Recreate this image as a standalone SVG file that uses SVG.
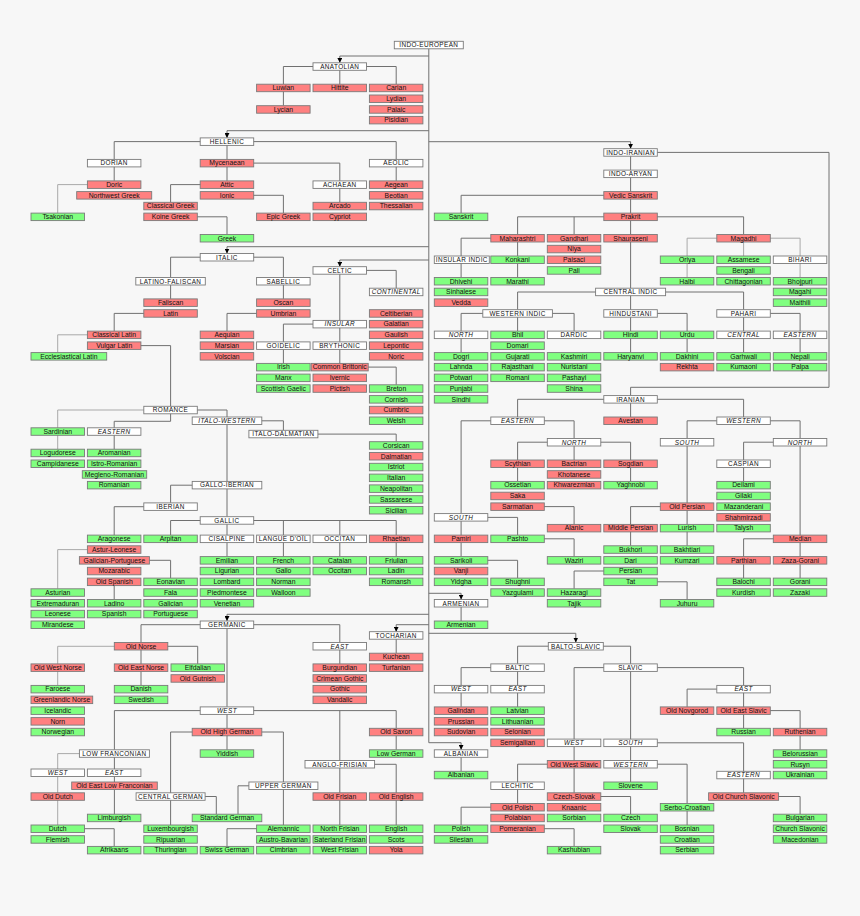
<svg xmlns="http://www.w3.org/2000/svg" width="860" height="916" viewBox="0 0 860 916">
<style>
.n rect{stroke:#7a7a7a;stroke-width:.9}
.r rect{fill:#ff8080}
.g rect{fill:#80ff80}
.w rect,.i rect{fill:#ffffff}
.n text{font-family:"Liberation Sans",Arial,sans-serif;font-size:6.8px;text-anchor:middle;fill:#111}
.w text,.i text{font-size:6.4px;letter-spacing:.4px}
.i text{font-style:italic}
#connectors path{fill:none;stroke:#707070;stroke-width:1}
#connectors path.lt{stroke:#a9a9a9}
#connectors path.ar{marker-end:url(#arrow)}
</style>
<defs>
<marker id="arrow" viewBox="0 0 10 10" refX="10" refY="5" markerWidth="5" markerHeight="5" markerUnits="userSpaceOnUse" orient="auto"><path d="M0,0L10,5L0,10z" fill="#000"/></marker>
</defs>
<rect width="860" height="916" fill="#f7f7f7"/>
<g id="connectors">
<path class="ar" d="M428.8,48.8V742.7H461.1V749.8"/>
<path class="ar" d="M428.8,56H339.8V62.8"/>
<path class="ar" d="M428.8,130.7H227V137.9"/>
<path class="ar" d="M428.8,141.7H630.6V148.7"/>
<path class="ar" d="M428.8,246.7H227V253.5"/>
<path class="ar" d="M428.8,260H339.8V266.7"/>
<path class="ar" d="M428.8,593.3H461.1V599.5"/>
<path class="ar" d="M428.8,614.3H227V621"/>
<path class="ar" d="M428.8,624.7H396.2V631.7"/>
<path class="ar" d="M428.8,633.3H575.8V642.5"/>
<path d="M339.8,66.5H283.4V84.2"/>
<path d="M283.4,88V105.7"/>
<path d="M339.8,66.5V84.2"/>
<path d="M339.8,66.5H396.2V84.2"/>
<path d="M227,141.6H114.2V159.4"/>
<path d="M114.2,163V180.9"/>
<path class="lt" d="M114.2,184.6H57.7V213.1"/>
<path d="M227,141.6V180.9"/>
<path d="M227,184.6H170.6V202.3"/>
<path d="M170.6,216.8H227V234.5"/>
<path d="M227,195.3H283.4V213.1"/>
<path d="M227,163.1H339.8V180.9"/>
<path d="M339.8,184.6V202.3"/>
<path d="M227,141.6H396.2V159.4"/>
<path d="M396.2,163.1V180.9"/>
<path d="M227,257.2H170.6V277.5"/>
<path d="M170.6,281V298.9"/>
<path d="M170.6,313.4H114.2V331.1"/>
<path class="lt" d="M114.2,334.8H57.7V352.6"/>
<path d="M114.2,345.6H170.6V406.3"/>
<path d="M227,257.2H283.4V277.5"/>
<path d="M283.4,281V298.9"/>
<path d="M283.4,313.4H227V331.1"/>
<path d="M339.8,270.4V341.9"/>
<path d="M339.8,270.4H396.2V288.2"/>
<path d="M339.8,324.1H283.4V341.9"/>
<path d="M283.4,345.6V363.4"/>
<path d="M339.8,345.6V363.4"/>
<path d="M339.8,367.1H396.2V384.8"/>
<path class="lt" d="M170.6,410H57.7V449.2"/>
<path d="M170.6,410V421.3H114.2V449.2"/>
<path d="M170.6,410H227V516.7"/>
<path d="M227,420.8H283.4V430.3"/>
<path d="M283.4,434.1H396.2V441.7"/>
<path d="M227,485.2H170.6V502.9"/>
<path d="M170.6,506.7H114.2V535.1"/>
<path d="M114.2,581.8V599.5"/>
<path class="lt" d="M114.2,549.6H57.7V588.8"/>
<path d="M114.4,560.3H170.6V578.1"/>
<path d="M227,520.5H170.6V535.1"/>
<path d="M227,520.5V535.1"/>
<path d="M227,520.5H396.2V535.1"/>
<path d="M283.4,520.5V535.1"/>
<path d="M339.8,520.5V535.1"/>
<path d="M227,538.8V556.6"/>
<path d="M283.4,538.8V556.6"/>
<path d="M339.8,538.8V556.6"/>
<path d="M396.2,538.8V556.6"/>
<path d="M227,624.7H141V642.5"/>
<path class="lt" d="M141,646.3H57.7V685.4"/>
<path d="M141,646.3V685.4"/>
<path d="M141,646.3H197.7V663.9"/>
<path d="M227,624.7H339.8V642.5"/>
<path d="M339.8,646.3V663.9"/>
<path d="M227,624.7V706.9"/>
<path d="M396.2,635.5V653.2"/>
<path d="M227,710.6H114.4V749.8"/>
<path d="M227,710.6V749.8"/>
<path d="M227,710.6H396.2V728.3"/>
<path d="M339.8,710.6V825"/>
<path d="M396.2,732V749.8"/>
<path d="M339.8,764.3H396.2V825"/>
<path d="M227,732H170.6V825"/>
<path d="M227,732H283.4V825"/>
<path d="M283.4,785.8H238V814.2"/>
<path d="M170.6,796.5H216.3V814.2"/>
<path d="M283.4,828.7H227V846.4"/>
<path class="lt" d="M114.4,753.6H57.7V825"/>
<path d="M114.4,753.6V814.2"/>
<path d="M57.7,828.7H114.2V846.4"/>
<path d="M630.6,152.4V352.6"/>
<path d="M630.6,195.3H461.1V213.1"/>
<path d="M630.6,216.8H517.6V234.5"/>
<path d="M574.1,216.8V234.5"/>
<path d="M630.6,216.8H743.6V234.5"/>
<path d="M517.6,238.2V277.5"/>
<path d="M517.6,238.2H461.1V256"/>
<path d="M461.1,259.7V277.5"/>
<path class="lt" d="M743.6,238.2H687.1V277.5"/>
<path class="lt" d="M743.6,238.2V256"/>
<path class="lt" d="M743.6,238.2H800.1V277.5"/>
<path d="M630.6,292H517.6V309.7"/>
<path d="M630.6,292H743.6V309.7"/>
<path d="M517.6,313.4H461.1V352.6"/>
<path d="M517.6,313.4V331.1"/>
<path d="M517.6,313.4H574.1V331.1"/>
<path d="M630.6,313.4H687.1V352.6"/>
<path d="M743.6,313.4V352.6"/>
<path d="M743.6,313.4H800.1V352.6"/>
<path d="M630.6,152.4H829V387.3H630.6V395.6"/>
<path d="M630.6,399.3V417"/>
<path d="M630.6,399.3H517.6V417"/>
<path d="M630.6,399.3H743.6V417"/>
<path d="M517.6,420.8H461.1V513.6"/>
<path d="M517.6,420.8H574.1V438.5"/>
<path d="M574.1,442.2H517.6V481.4"/>
<path d="M574.1,442.2V460"/>
<path d="M574.1,442.2H630.6V481.4"/>
<path d="M461.1,517.4V556.6"/>
<path d="M461.1,517.4H517.6V535.1"/>
<path d="M461.1,560.3H517.6V578.1"/>
<path d="M517.6,506.6H574.1V524.4"/>
<path d="M517.6,538.8H574.1V556.6"/>
<path d="M743.6,420.8H687.1V438.5"/>
<path d="M743.6,420.8H800.1V438.5"/>
<path d="M800.1,442.2H743.6V460"/>
<path d="M743.6,463.7V481.4"/>
<path d="M687.1,442.2V545.8"/>
<path d="M687.1,506.6H630.6V545.8"/>
<path d="M630.6,571H574.1V588.8"/>
<path d="M630.6,581.8H687.1V599.5"/>
<path d="M800.1,442.2V578.1"/>
<path d="M800.1,538.8H743.6V578.1"/>
<path d="M461.1,603.2V621"/>
<path d="M575.8,646.2H517.6V663.9"/>
<path d="M575.8,646.2H630.6V663.9"/>
<path d="M517.6,667.6H461.1V706.9"/>
<path d="M517.6,667.6V706.9"/>
<path d="M630.6,667.6H574.1V792.8"/>
<path d="M630.6,667.6H743.6V685.4"/>
<path d="M630.6,667.6V782"/>
<path d="M743.6,689.1H687.1V706.9"/>
<path d="M743.6,689.1V728.3"/>
<path d="M743.6,710.6H800.1V749.8"/>
<path d="M630.6,742.8H743.6V792.8"/>
<path d="M630.6,764.2H687.1V825"/>
<path d="M743.6,796.5H800.1V814.2"/>
<path d="M574.1,796.5H630.6V814.2"/>
<path d="M574.1,764.2H517.6V803.5"/>
<path d="M517.6,807.2H461.1V825"/>
<path d="M517.6,828.7H574.1V846.4"/>
<path d="M461.1,753.5V771.3"/>
</g>
<g id="n-indo-european" class="n w" transform="translate(394.3,41.3)"><rect width="69" height="7.5"/><text x="34.5" y="6.1">INDO-EUROPEAN</text></g>
<g id="n-anatolian" class="n w" transform="translate(313,62.8)"><rect width="53.5" height="7.5"/><text x="26.75" y="6.1">ANATOLIAN</text></g>
<g id="n-luwian" class="n r" transform="translate(256.6,84.2)"><rect width="53.5" height="7.5"/><text x="26.75" y="6.1">Luwian</text></g>
<g id="n-hittite" class="n r" transform="translate(313,84.2)"><rect width="53.5" height="7.5"/><text x="26.75" y="6.1">Hittite</text></g>
<g id="n-carian" class="n r" transform="translate(369.4,84.2)"><rect width="53.5" height="7.5"/><text x="26.75" y="6.1">Carian</text></g>
<g id="n-lydian" class="n r" transform="translate(369.4,95)"><rect width="53.5" height="7.5"/><text x="26.75" y="6.1">Lydian</text></g>
<g id="n-lycian" class="n r" transform="translate(256.6,105.7)"><rect width="53.5" height="7.5"/><text x="26.75" y="6.1">Lycian</text></g>
<g id="n-palaic" class="n r" transform="translate(369.4,105.7)"><rect width="53.5" height="7.5"/><text x="26.75" y="6.1">Palaic</text></g>
<g id="n-pisidian" class="n r" transform="translate(369.4,116.4)"><rect width="53.5" height="7.5"/><text x="26.75" y="6.1">Pisidian</text></g>
<g id="n-hellenic" class="n w" transform="translate(200.2,137.9)"><rect width="53.5" height="7.5"/><text x="26.75" y="6.1">HELLENIC</text></g>
<g id="n-dorian" class="n w" transform="translate(87.4,159.4)"><rect width="53.5" height="7.5"/><text x="26.75" y="6.1">DORIAN</text></g>
<g id="n-mycenaean" class="n r" transform="translate(200.2,159.4)"><rect width="53.5" height="7.5"/><text x="26.75" y="6.1">Mycenaean</text></g>
<g id="n-aeolic" class="n w" transform="translate(369.4,159.4)"><rect width="53.5" height="7.5"/><text x="26.75" y="6.1">AEOLIC</text></g>
<g id="n-doric" class="n r" transform="translate(87.4,180.9)"><rect width="53.5" height="7.5"/><text x="26.75" y="6.1">Doric</text></g>
<g id="n-attic" class="n r" transform="translate(200.2,180.9)"><rect width="53.5" height="7.5"/><text x="26.75" y="6.1">Attic</text></g>
<g id="n-achaean" class="n w" transform="translate(313,180.9)"><rect width="53.5" height="7.5"/><text x="26.75" y="6.1">ACHAEAN</text></g>
<g id="n-aegean" class="n r" transform="translate(369.4,180.9)"><rect width="53.5" height="7.5"/><text x="26.75" y="6.1">Aegean</text></g>
<g id="n-northwest-greek" class="n r" transform="translate(76.7,191.6)"><rect width="75" height="7.5"/><text x="37.5" y="6.1">Northwest Greek</text></g>
<g id="n-ionic" class="n r" transform="translate(200.2,191.6)"><rect width="53.5" height="7.5"/><text x="26.75" y="6.1">Ionic</text></g>
<g id="n-beotian" class="n r" transform="translate(369.4,191.6)"><rect width="53.5" height="7.5"/><text x="26.75" y="6.1">Beotian</text></g>
<g id="n-classical-greek" class="n r" transform="translate(143.8,202.3)"><rect width="53.5" height="7.5"/><text x="26.75" y="6.1">Classical Greek</text></g>
<g id="n-arcado" class="n r" transform="translate(313,202.3)"><rect width="53.5" height="7.5"/><text x="26.75" y="6.1">Arcado</text></g>
<g id="n-thessalian" class="n r" transform="translate(369.4,202.3)"><rect width="53.5" height="7.5"/><text x="26.75" y="6.1">Thessalian</text></g>
<g id="n-tsakonian" class="n g" transform="translate(31,213.1)"><rect width="53.5" height="7.5"/><text x="26.75" y="6.1">Tsakonian</text></g>
<g id="n-koine-greek" class="n r" transform="translate(143.8,213.1)"><rect width="53.5" height="7.5"/><text x="26.75" y="6.1">Koine Greek</text></g>
<g id="n-epic-greek" class="n r" transform="translate(256.6,213.1)"><rect width="53.5" height="7.5"/><text x="26.75" y="6.1">Epic Greek</text></g>
<g id="n-cypriot" class="n r" transform="translate(313,213.1)"><rect width="53.5" height="7.5"/><text x="26.75" y="6.1">Cypriot</text></g>
<g id="n-greek" class="n g" transform="translate(200.2,234.5)"><rect width="53.5" height="7.5"/><text x="26.75" y="6.1">Greek</text></g>
<g id="n-italic" class="n w" transform="translate(200.2,253.5)"><rect width="53.5" height="7.5"/><text x="26.75" y="6.1">ITALIC</text></g>
<g id="n-celtic" class="n w" transform="translate(313,266.7)"><rect width="53.5" height="7.5"/><text x="26.75" y="6.1">CELTIC</text></g>
<g id="n-latino-faliscan" class="n w" transform="translate(135.8,277.5)"><rect width="69.5" height="7.5"/><text x="34.75" y="6.1">LATINO-FALISCAN</text></g>
<g id="n-sabellic" class="n w" transform="translate(256.6,277.5)"><rect width="53.5" height="7.5"/><text x="26.75" y="6.1">SABELLIC</text></g>
<g id="n-continental" class="n i" transform="translate(369.4,288.2)"><rect width="53.5" height="7.5"/><text x="26.75" y="6.1">CONTINENTAL</text></g>
<g id="n-faliscan" class="n r" transform="translate(143.8,298.9)"><rect width="53.5" height="7.5"/><text x="26.75" y="6.1">Faliscan</text></g>
<g id="n-oscan" class="n r" transform="translate(256.6,298.9)"><rect width="53.5" height="7.5"/><text x="26.75" y="6.1">Oscan</text></g>
<g id="n-latin" class="n r" transform="translate(143.8,309.7)"><rect width="53.5" height="7.5"/><text x="26.75" y="6.1">Latin</text></g>
<g id="n-umbrian" class="n r" transform="translate(256.6,309.7)"><rect width="53.5" height="7.5"/><text x="26.75" y="6.1">Umbrian</text></g>
<g id="n-celtiberian" class="n r" transform="translate(369.4,309.7)"><rect width="53.5" height="7.5"/><text x="26.75" y="6.1">Celtiberian</text></g>
<g id="n-insular" class="n i" transform="translate(313,320.4)"><rect width="53.5" height="7.5"/><text x="26.75" y="6.1">INSULAR</text></g>
<g id="n-galatian" class="n r" transform="translate(369.4,320.4)"><rect width="53.5" height="7.5"/><text x="26.75" y="6.1">Galatian</text></g>
<g id="n-classical-latin" class="n r" transform="translate(87.4,331.1)"><rect width="53.5" height="7.5"/><text x="26.75" y="6.1">Classical Latin</text></g>
<g id="n-aequian" class="n r" transform="translate(200.2,331.1)"><rect width="53.5" height="7.5"/><text x="26.75" y="6.1">Aequian</text></g>
<g id="n-gaulish" class="n r" transform="translate(369.4,331.1)"><rect width="53.5" height="7.5"/><text x="26.75" y="6.1">Gaulish</text></g>
<g id="n-vulgar-latin" class="n r" transform="translate(87.4,341.9)"><rect width="53.5" height="7.5"/><text x="26.75" y="6.1">Vulgar Latin</text></g>
<g id="n-marsian" class="n r" transform="translate(200.2,341.9)"><rect width="53.5" height="7.5"/><text x="26.75" y="6.1">Marsian</text></g>
<g id="n-goidelic" class="n w" transform="translate(256.6,341.9)"><rect width="53.5" height="7.5"/><text x="26.75" y="6.1">GOIDELIC</text></g>
<g id="n-brythonic" class="n w" transform="translate(313,341.9)"><rect width="53.5" height="7.5"/><text x="26.75" y="6.1">BRYTHONIC</text></g>
<g id="n-lepontic" class="n r" transform="translate(369.4,341.9)"><rect width="53.5" height="7.5"/><text x="26.75" y="6.1">Lepontic</text></g>
<g id="n-ecclesiastical-latin" class="n g" transform="translate(31,352.6)"><rect width="75.7" height="7.5"/><text x="37.85" y="6.1">Ecclesiastical Latin</text></g>
<g id="n-volscian" class="n r" transform="translate(200.2,352.6)"><rect width="53.5" height="7.5"/><text x="26.75" y="6.1">Volscian</text></g>
<g id="n-noric" class="n r" transform="translate(369.4,352.6)"><rect width="53.5" height="7.5"/><text x="26.75" y="6.1">Noric</text></g>
<g id="n-irish" class="n g" transform="translate(256.6,363.4)"><rect width="53.5" height="7.5"/><text x="26.75" y="6.1">Irish</text></g>
<g id="n-common-brittonic" class="n r" transform="translate(311.2,363.4)"><rect width="57" height="7.5"/><text x="28.5" y="6.1">Common Brittonic</text></g>
<g id="n-manx" class="n g" transform="translate(256.6,374.1)"><rect width="53.5" height="7.5"/><text x="26.75" y="6.1">Manx</text></g>
<g id="n-ivernic" class="n r" transform="translate(313,374.1)"><rect width="53.5" height="7.5"/><text x="26.75" y="6.1">Ivernic</text></g>
<g id="n-scottish-gaelic" class="n g" transform="translate(256.6,384.8)"><rect width="53.5" height="7.5"/><text x="26.75" y="6.1">Scottish Gaelic</text></g>
<g id="n-pictish" class="n r" transform="translate(313,384.8)"><rect width="53.5" height="7.5"/><text x="26.75" y="6.1">Pictish</text></g>
<g id="n-breton" class="n g" transform="translate(369.4,384.8)"><rect width="53.5" height="7.5"/><text x="26.75" y="6.1">Breton</text></g>
<g id="n-cornish" class="n g" transform="translate(369.4,395.6)"><rect width="53.5" height="7.5"/><text x="26.75" y="6.1">Cornish</text></g>
<g id="n-romance" class="n w" transform="translate(143.8,406.3)"><rect width="53.5" height="7.5"/><text x="26.75" y="6.1">ROMANCE</text></g>
<g id="n-cumbric" class="n r" transform="translate(369.4,406.3)"><rect width="53.5" height="7.5"/><text x="26.75" y="6.1">Cumbric</text></g>
<g id="n-italo-western" class="n i" transform="translate(192.2,417)"><rect width="69.6" height="7.5"/><text x="34.8" y="6.1">ITALO-WESTERN</text></g>
<g id="n-welsh" class="n g" transform="translate(369.4,417)"><rect width="53.5" height="7.5"/><text x="26.75" y="6.1">Welsh</text></g>
<g id="n-sardinian" class="n g" transform="translate(31,427.8)"><rect width="53.5" height="7.5"/><text x="26.75" y="6.1">Sardinian</text></g>
<g id="n-eastern-romance" class="n i" transform="translate(87.4,427.8)"><rect width="53.5" height="7.5"/><text x="26.75" y="6.1">EASTERN</text></g>
<g id="n-italo-dalmatian" class="n w" transform="translate(248.9,430.3)"><rect width="69" height="7.5"/><text x="34.5" y="6.1">ITALO-DALMATIAN</text></g>
<g id="n-corsican" class="n g" transform="translate(369.4,441.7)"><rect width="53.5" height="7.5"/><text x="26.75" y="6.1">Corsican</text></g>
<g id="n-logudorese" class="n g" transform="translate(31,449.2)"><rect width="53.5" height="7.5"/><text x="26.75" y="6.1">Logudorese</text></g>
<g id="n-aromanian" class="n g" transform="translate(87.4,449.2)"><rect width="53.5" height="7.5"/><text x="26.75" y="6.1">Aromanian</text></g>
<g id="n-dalmatian" class="n r" transform="translate(369.4,452.5)"><rect width="53.5" height="7.5"/><text x="26.75" y="6.1">Dalmatian</text></g>
<g id="n-campidanese" class="n g" transform="translate(31,460)"><rect width="53.5" height="7.5"/><text x="26.75" y="6.1">Campidanese</text></g>
<g id="n-istro-romanian" class="n g" transform="translate(87.4,460)"><rect width="53.5" height="7.5"/><text x="26.75" y="6.1">Istro-Romanian</text></g>
<g id="n-istriot" class="n g" transform="translate(369.4,463.3)"><rect width="53.5" height="7.5"/><text x="26.75" y="6.1">Istriot</text></g>
<g id="n-megleno-romanian" class="n g" transform="translate(82.3,470.7)"><rect width="64.4" height="7.5"/><text x="32.2" y="6.1">Megleno-Romanian</text></g>
<g id="n-italian" class="n g" transform="translate(369.4,474.1)"><rect width="53.5" height="7.5"/><text x="26.75" y="6.1">Italian</text></g>
<g id="n-romanian" class="n g" transform="translate(87.4,481.4)"><rect width="53.5" height="7.5"/><text x="26.75" y="6.1">Romanian</text></g>
<g id="n-gallo-iberian" class="n w" transform="translate(192.2,481.4)"><rect width="69.6" height="7.5"/><text x="34.8" y="6.1">GALLO-IBERIAN</text></g>
<g id="n-neapolitan" class="n g" transform="translate(369.4,484.9)"><rect width="53.5" height="7.5"/><text x="26.75" y="6.1">Neapolitan</text></g>
<g id="n-sassarese" class="n g" transform="translate(369.4,495.7)"><rect width="53.5" height="7.5"/><text x="26.75" y="6.1">Sassarese</text></g>
<g id="n-iberian" class="n w" transform="translate(143.8,502.9)"><rect width="53.5" height="7.5"/><text x="26.75" y="6.1">IBERIAN</text></g>
<g id="n-sicilian" class="n g" transform="translate(369.4,506.5)"><rect width="53.5" height="7.5"/><text x="26.75" y="6.1">Sicilian</text></g>
<g id="n-gallic" class="n w" transform="translate(200.2,516.7)"><rect width="53.5" height="7.5"/><text x="26.75" y="6.1">GALLIC</text></g>
<g id="n-aragonese" class="n g" transform="translate(87.4,535.1)"><rect width="53.5" height="7.5"/><text x="26.75" y="6.1">Aragonese</text></g>
<g id="n-arpitan" class="n g" transform="translate(143.8,535.1)"><rect width="53.5" height="7.5"/><text x="26.75" y="6.1">Arpitan</text></g>
<g id="n-cisalpine" class="n w" transform="translate(200.2,535.1)"><rect width="53.5" height="7.5"/><text x="26.75" y="6.1">CISALPINE</text></g>
<g id="n-langue-d-oil" class="n w" transform="translate(256.6,535.1)"><rect width="53.5" height="7.5"/><text x="26.75" y="6.1">LANGUE D'OÏL</text></g>
<g id="n-occitan-group" class="n w" transform="translate(313,535.1)"><rect width="53.5" height="7.5"/><text x="26.75" y="6.1">OCCITAN</text></g>
<g id="n-rhaetian" class="n r" transform="translate(369.4,535.1)"><rect width="53.5" height="7.5"/><text x="26.75" y="6.1">Rhaetian</text></g>
<g id="n-astur-leonese" class="n r" transform="translate(87.4,545.8)"><rect width="53.5" height="7.5"/><text x="26.75" y="6.1">Astur-Leonese</text></g>
<g id="n-galician-portuguese" class="n r" transform="translate(79.4,556.6)"><rect width="70" height="7.5"/><text x="35" y="6.1">Galician-Portuguese</text></g>
<g id="n-emilian" class="n g" transform="translate(200.2,556.6)"><rect width="53.5" height="7.5"/><text x="26.75" y="6.1">Emilian</text></g>
<g id="n-french" class="n g" transform="translate(256.6,556.6)"><rect width="53.5" height="7.5"/><text x="26.75" y="6.1">French</text></g>
<g id="n-catalan" class="n g" transform="translate(313,556.6)"><rect width="53.5" height="7.5"/><text x="26.75" y="6.1">Catalan</text></g>
<g id="n-friulian" class="n g" transform="translate(369.4,556.6)"><rect width="53.5" height="7.5"/><text x="26.75" y="6.1">Friulian</text></g>
<g id="n-mozarabic" class="n r" transform="translate(87.4,567.3)"><rect width="53.5" height="7.5"/><text x="26.75" y="6.1">Mozarabic</text></g>
<g id="n-ligurian" class="n g" transform="translate(200.2,567.3)"><rect width="53.5" height="7.5"/><text x="26.75" y="6.1">Ligurian</text></g>
<g id="n-gallo" class="n g" transform="translate(256.6,567.3)"><rect width="53.5" height="7.5"/><text x="26.75" y="6.1">Gallo</text></g>
<g id="n-occitan" class="n g" transform="translate(313,567.3)"><rect width="53.5" height="7.5"/><text x="26.75" y="6.1">Occitan</text></g>
<g id="n-ladin" class="n g" transform="translate(369.4,567.3)"><rect width="53.5" height="7.5"/><text x="26.75" y="6.1">Ladin</text></g>
<g id="n-old-spanish" class="n r" transform="translate(87.4,578.1)"><rect width="53.5" height="7.5"/><text x="26.75" y="6.1">Old Spanish</text></g>
<g id="n-eonavian" class="n g" transform="translate(143.8,578.1)"><rect width="53.5" height="7.5"/><text x="26.75" y="6.1">Eonavian</text></g>
<g id="n-lombard" class="n g" transform="translate(200.2,578.1)"><rect width="53.5" height="7.5"/><text x="26.75" y="6.1">Lombard</text></g>
<g id="n-norman" class="n g" transform="translate(256.6,578.1)"><rect width="53.5" height="7.5"/><text x="26.75" y="6.1">Norman</text></g>
<g id="n-romansh" class="n g" transform="translate(369.4,578.1)"><rect width="53.5" height="7.5"/><text x="26.75" y="6.1">Romansh</text></g>
<g id="n-asturian" class="n g" transform="translate(31,588.8)"><rect width="53.5" height="7.5"/><text x="26.75" y="6.1">Asturian</text></g>
<g id="n-fala" class="n g" transform="translate(143.8,588.8)"><rect width="53.5" height="7.5"/><text x="26.75" y="6.1">Fala</text></g>
<g id="n-piedmontese" class="n g" transform="translate(200.2,588.8)"><rect width="53.5" height="7.5"/><text x="26.75" y="6.1">Piedmontese</text></g>
<g id="n-walloon" class="n g" transform="translate(256.6,588.8)"><rect width="53.5" height="7.5"/><text x="26.75" y="6.1">Walloon</text></g>
<g id="n-extremaduran" class="n g" transform="translate(31,599.5)"><rect width="53.5" height="7.5"/><text x="26.75" y="6.1">Extremaduran</text></g>
<g id="n-ladino" class="n g" transform="translate(87.4,599.5)"><rect width="53.5" height="7.5"/><text x="26.75" y="6.1">Ladino</text></g>
<g id="n-galician" class="n g" transform="translate(143.8,599.5)"><rect width="53.5" height="7.5"/><text x="26.75" y="6.1">Galician</text></g>
<g id="n-venetian" class="n g" transform="translate(200.2,599.5)"><rect width="53.5" height="7.5"/><text x="26.75" y="6.1">Venetian</text></g>
<g id="n-leonese" class="n g" transform="translate(31,610.3)"><rect width="53.5" height="7.5"/><text x="26.75" y="6.1">Leonese</text></g>
<g id="n-spanish" class="n g" transform="translate(87.4,610.3)"><rect width="53.5" height="7.5"/><text x="26.75" y="6.1">Spanish</text></g>
<g id="n-portuguese" class="n g" transform="translate(143.8,610.3)"><rect width="53.5" height="7.5"/><text x="26.75" y="6.1">Portuguese</text></g>
<g id="n-mirandese" class="n g" transform="translate(31,621)"><rect width="53.5" height="7.5"/><text x="26.75" y="6.1">Mirandese</text></g>
<g id="n-germanic" class="n w" transform="translate(200.2,621)"><rect width="53.5" height="7.5"/><text x="26.75" y="6.1">GERMANIC</text></g>
<g id="n-tocharian" class="n w" transform="translate(369.4,631.7)"><rect width="53.5" height="7.5"/><text x="26.75" y="6.1">TOCHARIAN</text></g>
<g id="n-old-norse" class="n r" transform="translate(114.3,642.5)"><rect width="53.5" height="7.5"/><text x="26.75" y="6.1">Old Norse</text></g>
<g id="n-east-germanic" class="n i" transform="translate(313,642.5)"><rect width="53.5" height="7.5"/><text x="26.75" y="6.1">EAST</text></g>
<g id="n-kuchean" class="n r" transform="translate(369.4,653.2)"><rect width="53.5" height="7.5"/><text x="26.75" y="6.1">Kuchean</text></g>
<g id="n-old-west-norse" class="n r" transform="translate(31,663.9)"><rect width="53.5" height="7.5"/><text x="26.75" y="6.1">Old West Norse</text></g>
<g id="n-old-east-norse" class="n r" transform="translate(114.3,663.9)"><rect width="53.5" height="7.5"/><text x="26.75" y="6.1">Old East Norse</text></g>
<g id="n-elfdalian" class="n g" transform="translate(171,663.9)"><rect width="53.5" height="7.5"/><text x="26.75" y="6.1">Elfdalian</text></g>
<g id="n-burgundian" class="n r" transform="translate(313,663.9)"><rect width="53.5" height="7.5"/><text x="26.75" y="6.1">Burgundian</text></g>
<g id="n-turfanian" class="n r" transform="translate(369.4,663.9)"><rect width="53.5" height="7.5"/><text x="26.75" y="6.1">Turfanian</text></g>
<g id="n-old-gutnish" class="n r" transform="translate(171,674.7)"><rect width="53.5" height="7.5"/><text x="26.75" y="6.1">Old Gutnish</text></g>
<g id="n-crimean-gothic" class="n r" transform="translate(313,674.7)"><rect width="53.5" height="7.5"/><text x="26.75" y="6.1">Crimean Gothic</text></g>
<g id="n-faroese" class="n g" transform="translate(31,685.4)"><rect width="53.5" height="7.5"/><text x="26.75" y="6.1">Faroese</text></g>
<g id="n-danish" class="n g" transform="translate(114.3,685.4)"><rect width="53.5" height="7.5"/><text x="26.75" y="6.1">Danish</text></g>
<g id="n-gothic" class="n r" transform="translate(313,685.4)"><rect width="53.5" height="7.5"/><text x="26.75" y="6.1">Gothic</text></g>
<g id="n-greenlandic-norse" class="n r" transform="translate(31,696.1)"><rect width="61.7" height="7.5"/><text x="30.85" y="6.1">Greenlandic Norse</text></g>
<g id="n-swedish" class="n g" transform="translate(114.3,696.1)"><rect width="53.5" height="7.5"/><text x="26.75" y="6.1">Swedish</text></g>
<g id="n-vandalic" class="n r" transform="translate(313,696.1)"><rect width="53.5" height="7.5"/><text x="26.75" y="6.1">Vandalic</text></g>
<g id="n-icelandic" class="n g" transform="translate(31,706.9)"><rect width="53.5" height="7.5"/><text x="26.75" y="6.1">Icelandic</text></g>
<g id="n-west-germanic" class="n i" transform="translate(200.2,706.9)"><rect width="53.5" height="7.5"/><text x="26.75" y="6.1">WEST</text></g>
<g id="n-norn" class="n r" transform="translate(31,717.6)"><rect width="53.5" height="7.5"/><text x="26.75" y="6.1">Norn</text></g>
<g id="n-norwegian" class="n g" transform="translate(31,728.3)"><rect width="53.5" height="7.5"/><text x="26.75" y="6.1">Norwegian</text></g>
<g id="n-old-high-german" class="n r" transform="translate(192.2,728.3)"><rect width="69.6" height="7.5"/><text x="34.8" y="6.1">Old High German</text></g>
<g id="n-old-saxon" class="n r" transform="translate(369.4,728.3)"><rect width="53.5" height="7.5"/><text x="26.75" y="6.1">Old Saxon</text></g>
<g id="n-low-franconian" class="n w" transform="translate(79.4,749.8)"><rect width="70" height="7.5"/><text x="35" y="6.1">LOW FRANCONIAN</text></g>
<g id="n-yiddish" class="n g" transform="translate(200.2,749.8)"><rect width="53.5" height="7.5"/><text x="26.75" y="6.1">Yiddish</text></g>
<g id="n-low-german" class="n g" transform="translate(369.4,749.8)"><rect width="53.5" height="7.5"/><text x="26.75" y="6.1">Low German</text></g>
<g id="n-anglo-frisian" class="n w" transform="translate(305,760.5)"><rect width="69.6" height="7.5"/><text x="34.8" y="6.1">ANGLO-FRISIAN</text></g>
<g id="n-west-low-franconian" class="n i" transform="translate(31,769)"><rect width="53.5" height="7.5"/><text x="26.75" y="6.1">WEST</text></g>
<g id="n-east-low-franconian" class="n i" transform="translate(87.4,769)"><rect width="53.5" height="7.5"/><text x="26.75" y="6.1">EAST</text></g>
<g id="n-old-east-low-franconian" class="n r" transform="translate(71.7,782)"><rect width="85.6" height="7.5"/><text x="42.8" y="6.1">Old East Low Franconian</text></g>
<g id="n-upper-german" class="n w" transform="translate(248.9,782)"><rect width="69" height="7.5"/><text x="34.5" y="6.1">UPPER GERMAN</text></g>
<g id="n-old-dutch" class="n r" transform="translate(31,792.8)"><rect width="53.5" height="7.5"/><text x="26.75" y="6.1">Old Dutch</text></g>
<g id="n-central-german" class="n w" transform="translate(136.1,792.8)"><rect width="69" height="7.5"/><text x="34.5" y="6.1">CENTRAL GERMAN</text></g>
<g id="n-old-frisian" class="n r" transform="translate(313,792.8)"><rect width="53.5" height="7.5"/><text x="26.75" y="6.1">Old Frisian</text></g>
<g id="n-old-english" class="n r" transform="translate(369.4,792.8)"><rect width="53.5" height="7.5"/><text x="26.75" y="6.1">Old English</text></g>
<g id="n-limburgish" class="n g" transform="translate(87.4,814.2)"><rect width="53.5" height="7.5"/><text x="26.75" y="6.1">Limburgish</text></g>
<g id="n-standard-german" class="n g" transform="translate(192.2,814.2)"><rect width="69.6" height="7.5"/><text x="34.8" y="6.1">Standard German</text></g>
<g id="n-dutch" class="n g" transform="translate(31,825)"><rect width="53.5" height="7.5"/><text x="26.75" y="6.1">Dutch</text></g>
<g id="n-luxembourgish" class="n g" transform="translate(143.8,825)"><rect width="53.5" height="7.5"/><text x="26.75" y="6.1">Luxembourgish</text></g>
<g id="n-alemannic" class="n g" transform="translate(256.6,825)"><rect width="53.5" height="7.5"/><text x="26.75" y="6.1">Alemannic</text></g>
<g id="n-north-frisian" class="n g" transform="translate(313,825)"><rect width="53.5" height="7.5"/><text x="26.75" y="6.1">North Frisian</text></g>
<g id="n-english" class="n g" transform="translate(369.4,825)"><rect width="53.5" height="7.5"/><text x="26.75" y="6.1">English</text></g>
<g id="n-flemish" class="n g" transform="translate(31,835.7)"><rect width="53.5" height="7.5"/><text x="26.75" y="6.1">Flemish</text></g>
<g id="n-ripuarian" class="n g" transform="translate(143.8,835.7)"><rect width="53.5" height="7.5"/><text x="26.75" y="6.1">Ripuarian</text></g>
<g id="n-austro-bavarian" class="n g" transform="translate(256.6,835.7)"><rect width="53.5" height="7.5"/><text x="26.75" y="6.1">Austro-Bavarian</text></g>
<g id="n-saterland-frisian" class="n g" transform="translate(313,835.7)"><rect width="53.5" height="7.5"/><text x="26.75" y="6.1">Saterland Frisian</text></g>
<g id="n-scots" class="n g" transform="translate(369.4,835.7)"><rect width="53.5" height="7.5"/><text x="26.75" y="6.1">Scots</text></g>
<g id="n-afrikaans" class="n g" transform="translate(87.4,846.4)"><rect width="53.5" height="7.5"/><text x="26.75" y="6.1">Afrikaans</text></g>
<g id="n-thuringian" class="n g" transform="translate(143.8,846.4)"><rect width="53.5" height="7.5"/><text x="26.75" y="6.1">Thuringian</text></g>
<g id="n-swiss-german" class="n g" transform="translate(200.2,846.4)"><rect width="53.5" height="7.5"/><text x="26.75" y="6.1">Swiss German</text></g>
<g id="n-cimbrian" class="n g" transform="translate(256.6,846.4)"><rect width="53.5" height="7.5"/><text x="26.75" y="6.1">Cimbrian</text></g>
<g id="n-west-frisian" class="n g" transform="translate(313,846.4)"><rect width="53.5" height="7.5"/><text x="26.75" y="6.1">West Frisian</text></g>
<g id="n-yola" class="n r" transform="translate(369.4,846.4)"><rect width="53.5" height="7.5"/><text x="26.75" y="6.1">Yola</text></g>
<g id="n-indo-iranian" class="n w" transform="translate(603.8,148.7)"><rect width="53.5" height="7.5"/><text x="26.75" y="6.1">INDO-IRANIAN</text></g>
<g id="n-indo-aryan" class="n w" transform="translate(603.8,170.1)"><rect width="53.5" height="7.5"/><text x="26.75" y="6.1">INDO-ARYAN</text></g>
<g id="n-vedic-sanskrit" class="n r" transform="translate(603.8,191.6)"><rect width="53.5" height="7.5"/><text x="26.75" y="6.1">Vedic Sanskrit</text></g>
<g id="n-sanskrit" class="n g" transform="translate(434.3,213.1)"><rect width="53.5" height="7.5"/><text x="26.75" y="6.1">Sanskrit</text></g>
<g id="n-prakrit" class="n r" transform="translate(603.8,213.1)"><rect width="53.5" height="7.5"/><text x="26.75" y="6.1">Prakrit</text></g>
<g id="n-maharashtri" class="n r" transform="translate(490.8,234.5)"><rect width="53.5" height="7.5"/><text x="26.75" y="6.1">Maharashtri</text></g>
<g id="n-gandhari" class="n r" transform="translate(547.3,234.5)"><rect width="53.5" height="7.5"/><text x="26.75" y="6.1">Gandhari</text></g>
<g id="n-shauraseni" class="n r" transform="translate(603.8,234.5)"><rect width="53.5" height="7.5"/><text x="26.75" y="6.1">Shauraseni</text></g>
<g id="n-magadhi" class="n r" transform="translate(716.8,234.5)"><rect width="53.5" height="7.5"/><text x="26.75" y="6.1">Magadhi</text></g>
<g id="n-niya" class="n r" transform="translate(547.3,245.3)"><rect width="53.5" height="7.5"/><text x="26.75" y="6.1">Niya</text></g>
<g id="n-insular-indic" class="n w" transform="translate(434.3,256)"><rect width="55" height="7.5"/><text x="27.5" y="6.1">INSULAR INDIC</text></g>
<g id="n-konkani" class="n g" transform="translate(490.8,256)"><rect width="53.5" height="7.5"/><text x="26.75" y="6.1">Konkani</text></g>
<g id="n-paisaci" class="n r" transform="translate(547.3,256)"><rect width="53.5" height="7.5"/><text x="26.75" y="6.1">Paisaci</text></g>
<g id="n-oriya" class="n g" transform="translate(660.3,256)"><rect width="53.5" height="7.5"/><text x="26.75" y="6.1">Oriya</text></g>
<g id="n-assamese" class="n g" transform="translate(716.8,256)"><rect width="53.5" height="7.5"/><text x="26.75" y="6.1">Assamese</text></g>
<g id="n-bihari" class="n w" transform="translate(773.3,256)"><rect width="53.5" height="7.5"/><text x="26.75" y="6.1">BIHARI</text></g>
<g id="n-pali" class="n g" transform="translate(547.3,266.7)"><rect width="53.5" height="7.5"/><text x="26.75" y="6.1">Pali</text></g>
<g id="n-bengali" class="n g" transform="translate(716.8,266.7)"><rect width="53.5" height="7.5"/><text x="26.75" y="6.1">Bengali</text></g>
<g id="n-dhivehi" class="n g" transform="translate(434.3,277.5)"><rect width="53.5" height="7.5"/><text x="26.75" y="6.1">Dhivehi</text></g>
<g id="n-marathi" class="n g" transform="translate(490.8,277.5)"><rect width="53.5" height="7.5"/><text x="26.75" y="6.1">Marathi</text></g>
<g id="n-halbi" class="n g" transform="translate(660.3,277.5)"><rect width="53.5" height="7.5"/><text x="26.75" y="6.1">Halbi</text></g>
<g id="n-chittagonian" class="n g" transform="translate(716.8,277.5)"><rect width="53.5" height="7.5"/><text x="26.75" y="6.1">Chittagonian</text></g>
<g id="n-bhojpuri" class="n g" transform="translate(773.3,277.5)"><rect width="53.5" height="7.5"/><text x="26.75" y="6.1">Bhojpuri</text></g>
<g id="n-sinhalese" class="n g" transform="translate(434.3,288.2)"><rect width="53.5" height="7.5"/><text x="26.75" y="6.1">Sinhalese</text></g>
<g id="n-central-indic" class="n w" transform="translate(595.6,288.2)"><rect width="70" height="7.5"/><text x="35" y="6.1">CENTRAL INDIC</text></g>
<g id="n-magahi" class="n g" transform="translate(773.3,288.2)"><rect width="53.5" height="7.5"/><text x="26.75" y="6.1">Magahi</text></g>
<g id="n-vedda" class="n r" transform="translate(434.3,298.9)"><rect width="53.5" height="7.5"/><text x="26.75" y="6.1">Vedda</text></g>
<g id="n-maithili" class="n g" transform="translate(773.3,298.9)"><rect width="53.5" height="7.5"/><text x="26.75" y="6.1">Maithili</text></g>
<g id="n-western-indic" class="n w" transform="translate(482.8,309.7)"><rect width="69.6" height="7.5"/><text x="34.8" y="6.1">WESTERN INDIC</text></g>
<g id="n-hindustani" class="n w" transform="translate(603.8,309.7)"><rect width="53.5" height="7.5"/><text x="26.75" y="6.1">HINDUSTANI</text></g>
<g id="n-pahari" class="n w" transform="translate(716.8,309.7)"><rect width="53.5" height="7.5"/><text x="26.75" y="6.1">PAHARI</text></g>
<g id="n-north-western-indic" class="n i" transform="translate(434.3,331.1)"><rect width="53.5" height="7.5"/><text x="26.75" y="6.1">NORTH</text></g>
<g id="n-bhil" class="n g" transform="translate(490.8,331.1)"><rect width="53.5" height="7.5"/><text x="26.75" y="6.1">Bhil</text></g>
<g id="n-dardic" class="n w" transform="translate(547.3,331.1)"><rect width="53.5" height="7.5"/><text x="26.75" y="6.1">DARDIC</text></g>
<g id="n-hindi" class="n g" transform="translate(603.8,331.1)"><rect width="53.5" height="7.5"/><text x="26.75" y="6.1">Hindi</text></g>
<g id="n-urdu" class="n g" transform="translate(660.3,331.1)"><rect width="53.5" height="7.5"/><text x="26.75" y="6.1">Urdu</text></g>
<g id="n-central-pahari" class="n i" transform="translate(716.8,331.1)"><rect width="53.5" height="7.5"/><text x="26.75" y="6.1">CENTRAL</text></g>
<g id="n-eastern-pahari" class="n i" transform="translate(773.3,331.1)"><rect width="53.5" height="7.5"/><text x="26.75" y="6.1">EASTERN</text></g>
<g id="n-domari" class="n g" transform="translate(490.8,341.9)"><rect width="53.5" height="7.5"/><text x="26.75" y="6.1">Domari</text></g>
<g id="n-dogri" class="n g" transform="translate(434.3,352.6)"><rect width="53.5" height="7.5"/><text x="26.75" y="6.1">Dogri</text></g>
<g id="n-gujarati" class="n g" transform="translate(490.8,352.6)"><rect width="53.5" height="7.5"/><text x="26.75" y="6.1">Gujarati</text></g>
<g id="n-kashmiri" class="n g" transform="translate(547.3,352.6)"><rect width="53.5" height="7.5"/><text x="26.75" y="6.1">Kashmiri</text></g>
<g id="n-haryanvi" class="n g" transform="translate(603.8,352.6)"><rect width="53.5" height="7.5"/><text x="26.75" y="6.1">Haryanvi</text></g>
<g id="n-dakhini" class="n g" transform="translate(660.3,352.6)"><rect width="53.5" height="7.5"/><text x="26.75" y="6.1">Dakhini</text></g>
<g id="n-garhwali" class="n g" transform="translate(716.8,352.6)"><rect width="53.5" height="7.5"/><text x="26.75" y="6.1">Garhwali</text></g>
<g id="n-nepali" class="n g" transform="translate(773.3,352.6)"><rect width="53.5" height="7.5"/><text x="26.75" y="6.1">Nepali</text></g>
<g id="n-lahnda" class="n g" transform="translate(434.3,363.4)"><rect width="53.5" height="7.5"/><text x="26.75" y="6.1">Lahnda</text></g>
<g id="n-rajasthani" class="n g" transform="translate(490.8,363.4)"><rect width="53.5" height="7.5"/><text x="26.75" y="6.1">Rajasthani</text></g>
<g id="n-nuristani" class="n g" transform="translate(547.3,363.4)"><rect width="53.5" height="7.5"/><text x="26.75" y="6.1">Nuristani</text></g>
<g id="n-rekhta" class="n r" transform="translate(660.3,363.4)"><rect width="53.5" height="7.5"/><text x="26.75" y="6.1">Rekhta</text></g>
<g id="n-kumaoni" class="n g" transform="translate(716.8,363.4)"><rect width="53.5" height="7.5"/><text x="26.75" y="6.1">Kumaoni</text></g>
<g id="n-palpa" class="n g" transform="translate(773.3,363.4)"><rect width="53.5" height="7.5"/><text x="26.75" y="6.1">Palpa</text></g>
<g id="n-potwari" class="n g" transform="translate(434.3,374.1)"><rect width="53.5" height="7.5"/><text x="26.75" y="6.1">Potwari</text></g>
<g id="n-romani" class="n g" transform="translate(490.8,374.1)"><rect width="53.5" height="7.5"/><text x="26.75" y="6.1">Romani</text></g>
<g id="n-pashayi" class="n g" transform="translate(547.3,374.1)"><rect width="53.5" height="7.5"/><text x="26.75" y="6.1">Pashayi</text></g>
<g id="n-punjabi" class="n g" transform="translate(434.3,384.8)"><rect width="53.5" height="7.5"/><text x="26.75" y="6.1">Punjabi</text></g>
<g id="n-shina" class="n g" transform="translate(547.3,384.8)"><rect width="53.5" height="7.5"/><text x="26.75" y="6.1">Shina</text></g>
<g id="n-sindhi" class="n g" transform="translate(434.3,395.6)"><rect width="53.5" height="7.5"/><text x="26.75" y="6.1">Sindhi</text></g>
<g id="n-iranian" class="n w" transform="translate(603.8,395.6)"><rect width="53.5" height="7.5"/><text x="26.75" y="6.1">IRANIAN</text></g>
<g id="n-eastern-iranian" class="n i" transform="translate(490.8,417)"><rect width="53.5" height="7.5"/><text x="26.75" y="6.1">EASTERN</text></g>
<g id="n-avestan" class="n r" transform="translate(603.8,417)"><rect width="53.5" height="7.5"/><text x="26.75" y="6.1">Avestan</text></g>
<g id="n-western-iranian" class="n i" transform="translate(716.8,417)"><rect width="53.5" height="7.5"/><text x="26.75" y="6.1">WESTERN</text></g>
<g id="n-north-eastern-iranian" class="n i" transform="translate(547.3,438.5)"><rect width="53.5" height="7.5"/><text x="26.75" y="6.1">NORTH</text></g>
<g id="n-south-western-iranian" class="n i" transform="translate(660.3,438.5)"><rect width="53.5" height="7.5"/><text x="26.75" y="6.1">SOUTH</text></g>
<g id="n-north-western-iranian" class="n i" transform="translate(773.3,438.5)"><rect width="53.5" height="7.5"/><text x="26.75" y="6.1">NORTH</text></g>
<g id="n-scythian" class="n r" transform="translate(490.8,460)"><rect width="53.5" height="7.5"/><text x="26.75" y="6.1">Scythian</text></g>
<g id="n-bactrian" class="n r" transform="translate(547.3,460)"><rect width="53.5" height="7.5"/><text x="26.75" y="6.1">Bactrian</text></g>
<g id="n-sogdian" class="n r" transform="translate(603.8,460)"><rect width="53.5" height="7.5"/><text x="26.75" y="6.1">Sogdian</text></g>
<g id="n-caspian" class="n w" transform="translate(716.8,460)"><rect width="53.5" height="7.5"/><text x="26.75" y="6.1">CASPIAN</text></g>
<g id="n-khotanese" class="n r" transform="translate(547.3,470.7)"><rect width="53.5" height="7.5"/><text x="26.75" y="6.1">Khotanese</text></g>
<g id="n-ossetian" class="n g" transform="translate(490.8,481.4)"><rect width="53.5" height="7.5"/><text x="26.75" y="6.1">Ossetian</text></g>
<g id="n-khwarezmian" class="n r" transform="translate(547.3,481.4)"><rect width="53.5" height="7.5"/><text x="26.75" y="6.1">Khwarezmian</text></g>
<g id="n-yaghnobi" class="n g" transform="translate(603.8,481.4)"><rect width="53.5" height="7.5"/><text x="26.75" y="6.1">Yaghnobi</text></g>
<g id="n-deilami" class="n g" transform="translate(716.8,481.4)"><rect width="53.5" height="7.5"/><text x="26.75" y="6.1">Deilami</text></g>
<g id="n-saka" class="n r" transform="translate(490.8,492.2)"><rect width="53.5" height="7.5"/><text x="26.75" y="6.1">Saka</text></g>
<g id="n-gilaki" class="n g" transform="translate(716.8,492.2)"><rect width="53.5" height="7.5"/><text x="26.75" y="6.1">Gilaki</text></g>
<g id="n-sarmatian" class="n r" transform="translate(490.8,502.9)"><rect width="53.5" height="7.5"/><text x="26.75" y="6.1">Sarmatian</text></g>
<g id="n-old-persian" class="n r" transform="translate(660.3,502.9)"><rect width="53.5" height="7.5"/><text x="26.75" y="6.1">Old Persian</text></g>
<g id="n-mazanderani" class="n g" transform="translate(716.8,502.9)"><rect width="53.5" height="7.5"/><text x="26.75" y="6.1">Mazanderani</text></g>
<g id="n-south-eastern-iranian" class="n i" transform="translate(434.3,513.6)"><rect width="53.5" height="7.5"/><text x="26.75" y="6.1">SOUTH</text></g>
<g id="n-shahmirzadi" class="n r" transform="translate(716.8,513.6)"><rect width="53.5" height="7.5"/><text x="26.75" y="6.1">Shahmirzadi</text></g>
<g id="n-alanic" class="n r" transform="translate(547.3,524.4)"><rect width="53.5" height="7.5"/><text x="26.75" y="6.1">Alanic</text></g>
<g id="n-middle-persian" class="n r" transform="translate(603.8,524.4)"><rect width="53.5" height="7.5"/><text x="26.75" y="6.1">Middle Persian</text></g>
<g id="n-lurish" class="n g" transform="translate(660.3,524.4)"><rect width="53.5" height="7.5"/><text x="26.75" y="6.1">Lurish</text></g>
<g id="n-talysh" class="n g" transform="translate(716.8,524.4)"><rect width="53.5" height="7.5"/><text x="26.75" y="6.1">Talysh</text></g>
<g id="n-pamiri" class="n r" transform="translate(434.3,535.1)"><rect width="53.5" height="7.5"/><text x="26.75" y="6.1">Pamiri</text></g>
<g id="n-pashto" class="n g" transform="translate(490.8,535.1)"><rect width="53.5" height="7.5"/><text x="26.75" y="6.1">Pashto</text></g>
<g id="n-median" class="n r" transform="translate(773.3,535.1)"><rect width="53.5" height="7.5"/><text x="26.75" y="6.1">Median</text></g>
<g id="n-bukhori" class="n g" transform="translate(603.8,545.8)"><rect width="53.5" height="7.5"/><text x="26.75" y="6.1">Bukhori</text></g>
<g id="n-bakhtiari" class="n g" transform="translate(660.3,545.8)"><rect width="53.5" height="7.5"/><text x="26.75" y="6.1">Bakhtiari</text></g>
<g id="n-sarikoli" class="n g" transform="translate(434.3,556.6)"><rect width="53.5" height="7.5"/><text x="26.75" y="6.1">Sarikoli</text></g>
<g id="n-waziri" class="n g" transform="translate(547.3,556.6)"><rect width="53.5" height="7.5"/><text x="26.75" y="6.1">Waziri</text></g>
<g id="n-dari" class="n g" transform="translate(603.8,556.6)"><rect width="53.5" height="7.5"/><text x="26.75" y="6.1">Dari</text></g>
<g id="n-kumzari" class="n g" transform="translate(660.3,556.6)"><rect width="53.5" height="7.5"/><text x="26.75" y="6.1">Kumzari</text></g>
<g id="n-parthian" class="n r" transform="translate(716.8,556.6)"><rect width="53.5" height="7.5"/><text x="26.75" y="6.1">Parthian</text></g>
<g id="n-zaza-gorani" class="n r" transform="translate(773.3,556.6)"><rect width="53.5" height="7.5"/><text x="26.75" y="6.1">Zaza-Gorani</text></g>
<g id="n-vanji" class="n r" transform="translate(434.3,567.3)"><rect width="53.5" height="7.5"/><text x="26.75" y="6.1">Vanji</text></g>
<g id="n-persian" class="n g" transform="translate(603.8,567.3)"><rect width="53.5" height="7.5"/><text x="26.75" y="6.1">Persian</text></g>
<g id="n-yidgha" class="n g" transform="translate(434.3,578.1)"><rect width="53.5" height="7.5"/><text x="26.75" y="6.1">Yidgha</text></g>
<g id="n-shughni" class="n g" transform="translate(490.8,578.1)"><rect width="53.5" height="7.5"/><text x="26.75" y="6.1">Shughni</text></g>
<g id="n-tat" class="n g" transform="translate(603.8,578.1)"><rect width="53.5" height="7.5"/><text x="26.75" y="6.1">Tat</text></g>
<g id="n-balochi" class="n g" transform="translate(716.8,578.1)"><rect width="53.5" height="7.5"/><text x="26.75" y="6.1">Balochi</text></g>
<g id="n-gorani" class="n g" transform="translate(773.3,578.1)"><rect width="53.5" height="7.5"/><text x="26.75" y="6.1">Gorani</text></g>
<g id="n-yazgulami" class="n g" transform="translate(490.8,588.8)"><rect width="53.5" height="7.5"/><text x="26.75" y="6.1">Yazgulami</text></g>
<g id="n-hazaragi" class="n g" transform="translate(547.3,588.8)"><rect width="53.5" height="7.5"/><text x="26.75" y="6.1">Hazaragi</text></g>
<g id="n-kurdish" class="n g" transform="translate(716.8,588.8)"><rect width="53.5" height="7.5"/><text x="26.75" y="6.1">Kurdish</text></g>
<g id="n-zazaki" class="n g" transform="translate(773.3,588.8)"><rect width="53.5" height="7.5"/><text x="26.75" y="6.1">Zazaki</text></g>
<g id="n-armenian-group" class="n w" transform="translate(434.3,599.5)"><rect width="53.5" height="7.5"/><text x="26.75" y="6.1">ARMENIAN</text></g>
<g id="n-tajik" class="n g" transform="translate(547.3,599.5)"><rect width="53.5" height="7.5"/><text x="26.75" y="6.1">Tajik</text></g>
<g id="n-juhuru" class="n g" transform="translate(660.3,599.5)"><rect width="53.5" height="7.5"/><text x="26.75" y="6.1">Juhuru</text></g>
<g id="n-armenian" class="n g" transform="translate(434.3,621)"><rect width="53.5" height="7.5"/><text x="26.75" y="6.1">Armenian</text></g>
<g id="n-balto-slavic" class="n w" transform="translate(548.3,642.5)"><rect width="55" height="7.5"/><text x="27.5" y="6.1">BALTO-SLAVIC</text></g>
<g id="n-baltic" class="n w" transform="translate(490.8,663.9)"><rect width="53.5" height="7.5"/><text x="26.75" y="6.1">BALTIC</text></g>
<g id="n-slavic" class="n w" transform="translate(603.8,663.9)"><rect width="53.5" height="7.5"/><text x="26.75" y="6.1">SLAVIC</text></g>
<g id="n-west-baltic" class="n i" transform="translate(434.3,685.4)"><rect width="53.5" height="7.5"/><text x="26.75" y="6.1">WEST</text></g>
<g id="n-east-baltic" class="n i" transform="translate(490.8,685.4)"><rect width="53.5" height="7.5"/><text x="26.75" y="6.1">EAST</text></g>
<g id="n-east-slavic" class="n i" transform="translate(716.8,685.4)"><rect width="53.5" height="7.5"/><text x="26.75" y="6.1">EAST</text></g>
<g id="n-galindan" class="n r" transform="translate(434.3,706.9)"><rect width="53.5" height="7.5"/><text x="26.75" y="6.1">Galindan</text></g>
<g id="n-latvian" class="n g" transform="translate(490.8,706.9)"><rect width="53.5" height="7.5"/><text x="26.75" y="6.1">Latvian</text></g>
<g id="n-old-novgorod" class="n r" transform="translate(660.3,706.9)"><rect width="53.5" height="7.5"/><text x="26.75" y="6.1">Old Novgorod</text></g>
<g id="n-old-east-slavic" class="n r" transform="translate(716.8,706.9)"><rect width="53.5" height="7.5"/><text x="26.75" y="6.1">Old East Slavic</text></g>
<g id="n-prussian" class="n r" transform="translate(434.3,717.6)"><rect width="53.5" height="7.5"/><text x="26.75" y="6.1">Prussian</text></g>
<g id="n-lithuanian" class="n g" transform="translate(490.8,717.6)"><rect width="53.5" height="7.5"/><text x="26.75" y="6.1">Lithuanian</text></g>
<g id="n-sudovian" class="n r" transform="translate(434.3,728.3)"><rect width="53.5" height="7.5"/><text x="26.75" y="6.1">Sudovian</text></g>
<g id="n-selonian" class="n r" transform="translate(490.8,728.3)"><rect width="53.5" height="7.5"/><text x="26.75" y="6.1">Selonian</text></g>
<g id="n-russian" class="n g" transform="translate(716.8,728.3)"><rect width="53.5" height="7.5"/><text x="26.75" y="6.1">Russian</text></g>
<g id="n-ruthenian" class="n r" transform="translate(773.3,728.3)"><rect width="53.5" height="7.5"/><text x="26.75" y="6.1">Ruthenian</text></g>
<g id="n-semigallian" class="n r" transform="translate(490.8,739.1)"><rect width="53.5" height="7.5"/><text x="26.75" y="6.1">Semigallian</text></g>
<g id="n-west-slavic" class="n i" transform="translate(547.3,739.1)"><rect width="53.5" height="7.5"/><text x="26.75" y="6.1">WEST</text></g>
<g id="n-south-slavic" class="n i" transform="translate(603.8,739.1)"><rect width="53.5" height="7.5"/><text x="26.75" y="6.1">SOUTH</text></g>
<g id="n-albanian-group" class="n w" transform="translate(434.3,749.8)"><rect width="53.5" height="7.5"/><text x="26.75" y="6.1">ALBANIAN</text></g>
<g id="n-belorussian" class="n g" transform="translate(773.3,749.8)"><rect width="53.5" height="7.5"/><text x="26.75" y="6.1">Belorussian</text></g>
<g id="n-old-west-slavic" class="n r" transform="translate(547.3,760.5)"><rect width="53.5" height="7.5"/><text x="26.75" y="6.1">Old West Slavic</text></g>
<g id="n-western-south-slavic" class="n i" transform="translate(603.8,760.5)"><rect width="53.5" height="7.5"/><text x="26.75" y="6.1">WESTERN</text></g>
<g id="n-rusyn" class="n g" transform="translate(773.3,760.5)"><rect width="53.5" height="7.5"/><text x="26.75" y="6.1">Rusyn</text></g>
<g id="n-albanian" class="n g" transform="translate(434.3,771.3)"><rect width="53.5" height="7.5"/><text x="26.75" y="6.1">Albanian</text></g>
<g id="n-eastern-south-slavic" class="n i" transform="translate(716.8,771.3)"><rect width="53.5" height="7.5"/><text x="26.75" y="6.1">EASTERN</text></g>
<g id="n-ukrainian" class="n g" transform="translate(773.3,771.3)"><rect width="53.5" height="7.5"/><text x="26.75" y="6.1">Ukrainian</text></g>
<g id="n-lechitic" class="n w" transform="translate(490.8,782)"><rect width="53.5" height="7.5"/><text x="26.75" y="6.1">LECHITIC</text></g>
<g id="n-slovene" class="n g" transform="translate(603.8,782)"><rect width="53.5" height="7.5"/><text x="26.75" y="6.1">Slovene</text></g>
<g id="n-czech-slovak" class="n r" transform="translate(547.3,792.8)"><rect width="53.5" height="7.5"/><text x="26.75" y="6.1">Czech-Slovak</text></g>
<g id="n-old-church-slavonic" class="n r" transform="translate(708.6,792.8)"><rect width="70" height="7.5"/><text x="35" y="6.1">Old Church Slavonic</text></g>
<g id="n-old-polish" class="n r" transform="translate(490.8,803.5)"><rect width="53.5" height="7.5"/><text x="26.75" y="6.1">Old Polish</text></g>
<g id="n-knaanic" class="n r" transform="translate(547.3,803.5)"><rect width="53.5" height="7.5"/><text x="26.75" y="6.1">Knaanic</text></g>
<g id="n-serbo-croatian" class="n g" transform="translate(660.3,803.5)"><rect width="53.5" height="7.5"/><text x="26.75" y="6.1">Serbo-Croatian</text></g>
<g id="n-polabian" class="n r" transform="translate(490.8,814.2)"><rect width="53.5" height="7.5"/><text x="26.75" y="6.1">Polabian</text></g>
<g id="n-sorbian" class="n g" transform="translate(547.3,814.2)"><rect width="53.5" height="7.5"/><text x="26.75" y="6.1">Sorbian</text></g>
<g id="n-czech" class="n g" transform="translate(603.8,814.2)"><rect width="53.5" height="7.5"/><text x="26.75" y="6.1">Czech</text></g>
<g id="n-bulgarian" class="n g" transform="translate(773.3,814.2)"><rect width="53.5" height="7.5"/><text x="26.75" y="6.1">Bulgarian</text></g>
<g id="n-polish" class="n g" transform="translate(434.3,825)"><rect width="53.5" height="7.5"/><text x="26.75" y="6.1">Polish</text></g>
<g id="n-pomeranian" class="n r" transform="translate(490.8,825)"><rect width="53.5" height="7.5"/><text x="26.75" y="6.1">Pomeranian</text></g>
<g id="n-slovak" class="n g" transform="translate(603.8,825)"><rect width="53.5" height="7.5"/><text x="26.75" y="6.1">Slovak</text></g>
<g id="n-bosnian" class="n g" transform="translate(660.3,825)"><rect width="53.5" height="7.5"/><text x="26.75" y="6.1">Bosnian</text></g>
<g id="n-church-slavonic" class="n g" transform="translate(773.3,825)"><rect width="53.5" height="7.5"/><text x="26.75" y="6.1">Church Slavonic</text></g>
<g id="n-silesian" class="n g" transform="translate(434.3,835.7)"><rect width="53.5" height="7.5"/><text x="26.75" y="6.1">Silesian</text></g>
<g id="n-croatian" class="n g" transform="translate(660.3,835.7)"><rect width="53.5" height="7.5"/><text x="26.75" y="6.1">Croatian</text></g>
<g id="n-macedonian" class="n g" transform="translate(773.3,835.7)"><rect width="53.5" height="7.5"/><text x="26.75" y="6.1">Macedonian</text></g>
<g id="n-kashubian" class="n g" transform="translate(547.3,846.4)"><rect width="53.5" height="7.5"/><text x="26.75" y="6.1">Kashubian</text></g>
<g id="n-serbian" class="n g" transform="translate(660.3,846.4)"><rect width="53.5" height="7.5"/><text x="26.75" y="6.1">Serbian</text></g>
</svg>
